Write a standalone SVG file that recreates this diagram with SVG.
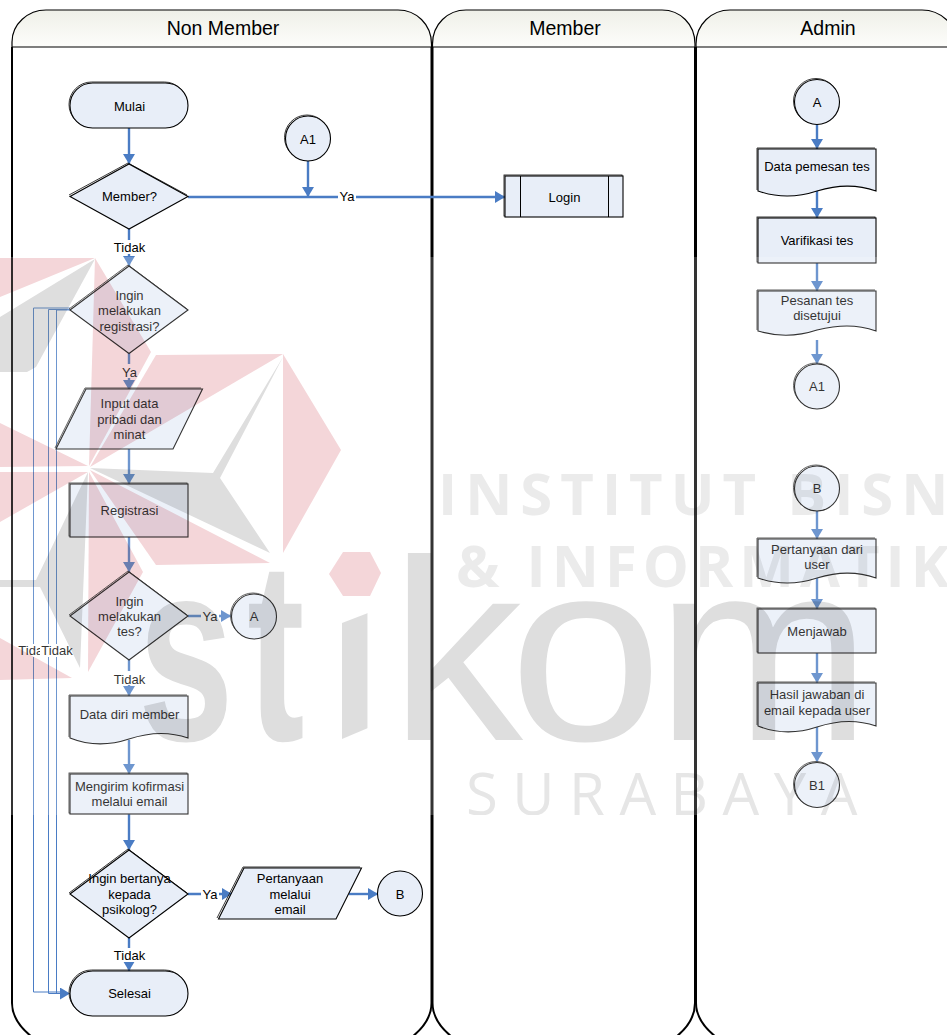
<svg xmlns="http://www.w3.org/2000/svg" width="947" height="1035" viewBox="0 0 947 1035">
<style>
text{font-family:"Liberation Sans",Arial,sans-serif;fill:#000;text-anchor:middle}
.t{font-size:13px}
.h{font-size:19.5px}
.n{fill:#e8eef8;stroke:#000;stroke-width:1.1}
.b{fill:none;stroke:#222;stroke-width:.9}
.in{fill:none;stroke:#000;stroke-width:1}
.lane{fill:none;stroke:#000;stroke-width:2}
.head{fill:url(#hg);stroke:#000;stroke-width:1.2}
.c{fill:none;stroke:#4a7cc4;stroke-width:2.4}
.a{marker-end:url(#ah)}
.th{fill:none;stroke:#4a7cc4;stroke-width:1}
.lb{fill:#fff}
.g{fill:#dedede}
.r{fill:#f4d6d9}
.wm{font-family:"Open Sans","Liberation Sans",sans-serif;font-weight:700;font-size:58px;fill:#ebebeb;text-anchor:start}
.wr{font-family:"Open Sans","Liberation Sans",sans-serif;font-weight:400;font-size:58px;fill:#e6e6e6;text-anchor:start}
.big{font-family:"Liberation Sans",sans-serif;font-weight:700;font-size:258px;fill:#dedede;text-anchor:start}
.big2{font-family:"Liberation Sans",sans-serif;font-weight:400;font-size:258px;fill:#dedede;text-anchor:start}
</style>
<defs>
<linearGradient id="hg" x1="0" y1="0" x2="0" y2="1"><stop offset="0" stop-color="#eff0e8"/><stop offset="1" stop-color="#fdfdfb"/></linearGradient>
<marker id="ah" markerUnits="userSpaceOnUse" markerWidth="10" markerHeight="12" refX="10" refY="6" orient="auto"><path d="M0,0 L10,6 L0,12 Z" fill="#4a7cc4"/></marker>
<clipPath id="ci"><polygon points="342,623 368,613 368,728 342,739"/></clipPath>
<clipPath id="band"><rect x="0" y="257" width="947" height="558"/></clipPath>
</defs>
<rect width="947" height="1035" fill="#fff"/>

<g id="lane-non-member">
<path class="head" d="M12,47 V42 C12,24 28,10 46,10 H398 C416,10 431.5,24 431.5,44 V47 Z"/>
<path class="lane" d="M12,47 V1003 C12,1018 22,1030 36,1040 H408 C422,1030 431.5,1018 431.5,1003 V47"/>
<text class="h" x="223" y="35">Non Member</text>
</g>
<g id="lane-member">
<path class="head" d="M432.5,47 V44 C432.5,24 448,10 466,10 H662 C680,10 695,24 695,44 V47 Z"/>
<path class="lane" d="M432.5,47 V1003 C432.5,1018 442,1030 456,1040 H672 C686,1030 695,1018 695,1003 V47"/>
<text class="h" x="565" y="35">Member</text>
</g>
<g id="lane-admin">
<path class="head" d="M696,47 V44 C696,24 712,10 730,10 H922 C940,10 957,24 957,44 V47 Z"/>
<path class="lane" d="M696,47 V1003 C696,1018 706,1030 720,1040 H940"/>
<text class="h" x="828" y="35">Admin</text>
</g>

<g id="connectors">
<path class="th" d="M70,308 H33.5 V992 H60"/>
<path class="th" d="M70,309.5 H48.5 V993.5 H60"/>
<path class="th" d="M70,310 H56.5 V993.5 H70" marker-end="url(#ah)"/>
<rect class="lb" x="17" y="644" width="24" height="13"/>
<text class="t" x="34" y="655">Tidak</text>
<rect class="lb" x="40" y="644" width="33" height="13"/>
<text class="t" x="57" y="655">Tidak</text>

<path class="c a" d="M129,128 V164"/>
<path class="c a" d="M308,161 V197"/>
<path class="c a" d="M188,197 H505"/>
<rect class="lb" x="338" y="190" width="18" height="14"/>
<text class="t" x="347" y="201">Ya</text>
<path class="c a" d="M129,229 V266"/>
<rect class="lb" x="113" y="240" width="33" height="14"/>
<text class="t" x="129.500" y="251.500">Tidak</text>
<path class="c a" d="M129,353 V390"/>
<rect class="lb" x="120" y="364" width="19" height="14"/>
<text class="t" x="129.500" y="376.500">Ya</text>
<path class="c a" d="M129,449 V484"/>
<path class="c a" d="M129,537 V572"/>
<path class="c a" d="M188,616 H231"/>
<rect class="lb" x="201" y="609" width="18" height="14"/>
<text class="t" x="210" y="621">Ya</text>
<path class="c a" d="M129,660 V696"/>
<rect class="lb" x="113" y="671" width="33" height="14"/>
<text class="t" x="129.500" y="683.500">Tidak</text>
<path class="c a" d="M129,740 V774"/>
<path class="c a" d="M129,814 V850"/>
<path class="c a" d="M188,894 H232"/>
<rect class="lb" x="201" y="887" width="18" height="14"/>
<text class="t" x="210" y="899">Ya</text>
<path class="c a" d="M349,894 H378"/>
<path class="c a" d="M129,938 V971"/>
<rect class="lb" x="113" y="948" width="33" height="14"/>
<text class="t" x="129.500" y="959.500">Tidak</text>

<path class="c a" d="M817,124 V149"/>
<path class="c a" d="M817,191 V218"/>
<path class="c a" d="M817,263 V291"/>
<path class="c a" d="M817,340 V364"/>
<path class="c a" d="M817,511 V539"/>
<path class="c a" d="M817,578 V609"/>
<path class="c a" d="M817,653 V683"/>
<path class="c a" d="M817,727 V762"/>
</g>

<g id="node-mulai">
<rect class="b" x="69" y="82" width="118" height="45" rx="22.500"/><rect class="n" x="70" y="83" width="118" height="45" rx="22.500"/>
<text class="t" x="129.500" y="110.500">Mulai</text>
</g>
<g id="node-member-q">
<path class="b" d="M69,195 L128,163 L187,195"/><path class="n" d="M70,196.500 L129,164 L188,196.500 L129,229 Z"/>
<text class="t" x="129.500" y="201">Member?</text>
</g>
<g id="node-a1-top">
<circle class="b" cx="307" cy="137.500" r="22.500"/><circle class="n" cx="308" cy="138.500" r="22.500"/>
<text class="t" x="308" y="143.500">A1</text>
</g>
<g id="node-login">
<rect class="b" x="504" y="175" width="118" height="41"/><rect class="n" x="505" y="176" width="118" height="41"/>
<path class="in" d="M520.500,176 V217 M608.500,176 V217"/>
<text class="t" x="564.500" y="201.500">Login</text>
</g>
<g id="node-registrasi-q">
<path class="b" d="M69,309 L128,265 L187,309"/><path class="n" d="M70,310 L129,266 L188,310 L129,353.500 Z"/>
<text class="t" x="129.500" y="299.500">Ingin</text><text class="t" x="129.500" y="314.500">melakukan</text><text class="t" x="129.500" y="330.500">registrasi?</text>
</g>
<g id="node-input">
<path class="b" d="M55,448 L85,388 H201"/><path class="n" d="M86,389 H202.500 L173,449 H56 Z"/>
<text class="t" x="129.500" y="408">Input data</text><text class="t" x="129.500" y="424">pribadi dan</text><text class="t" x="129.500" y="439">minat</text>
</g>
<g id="node-registrasi">
<rect class="b" x="69" y="483" width="118" height="53"/><rect class="n" x="70" y="484" width="118" height="53"/>
<text class="t" x="129.500" y="515">Registrasi</text>
</g>
<g id="node-tes-q">
<path class="b" d="M69,615 L128,571 L187,615"/><path class="n" d="M70,616 L129,572 L188,616 L129,660 Z"/>
<text class="t" x="129.500" y="605.500">Ingin</text><text class="t" x="129.500" y="621">melakukan</text><text class="t" x="129.500" y="636">tes?</text>
</g>
<g id="node-a-left">
<circle class="b" cx="253" cy="615.500" r="22.500"/><circle class="n" cx="254" cy="616.500" r="22.500"/>
<text class="t" x="254" y="621">A</text>
</g>
<g id="node-data-diri">
<path class="b" d="M69,737 V695 H187"/><path class="n" d="M70,696 H188 V738 C168,731 150,732 129,739 C108,746 90,746 70,738 Z"/>
<text class="t" x="129.500" y="719">Data diri member</text>
</g>
<g id="node-mengirim">
<rect class="b" x="69" y="773" width="118" height="40"/><rect class="n" x="70" y="774" width="118" height="40"/>
<text class="t" x="129.500" y="791">Mengirim kofirmasi</text><text class="t" x="129.500" y="806">melalui email</text>
</g>
<g id="node-bertanya-q">
<path class="b" d="M69,893 L128,849 L187,893"/><path class="n" d="M70,894 L129,850 L188,894 L129,938 Z"/>
<text class="t" x="129.500" y="883">Ingin bertanya</text><text class="t" x="129.500" y="898.500">kepada</text><text class="t" x="129.500" y="914">psikolog?</text>
</g>
<g id="node-pertanyaan">
<path class="b" d="M217,918 L243,867 H360"/><path class="n" d="M244,868 H361.500 L336,919 H218.500 Z"/>
<text class="t" x="290" y="883">Pertanyaan</text><text class="t" x="290" y="898.500">melalui</text><text class="t" x="290" y="914">email</text>
</g>
<g id="node-b-left">
<circle class="n" cx="400" cy="893.500" r="22.500"/>
<text class="t" x="400" y="898.500">B</text>
</g>
<g id="node-selesai">
<rect class="b" x="69" y="970" width="118" height="45" rx="22.500"/><rect class="n" x="70" y="971" width="118" height="45" rx="22.500"/>
<text class="t" x="129.500" y="997.500">Selesai</text>
</g>

<g id="node-a-right">
<circle class="b" cx="816" cy="101" r="22.500"/><circle class="n" cx="817" cy="102" r="22.500"/>
<text class="t" x="817" y="106.500">A</text>
</g>
<g id="node-data-pemesan">
<path class="b" d="M757,190 V148 H875"/><path class="n" d="M758,149 H876 V191 C856,184 838,185 817,191 C796,198 778,198 758,191 Z"/>
<text class="t" x="817" y="171">Data pemesan tes</text>
</g>
<g id="node-varifikasi">
<rect class="b" x="757" y="217" width="118" height="45"/><rect class="n" x="758" y="218" width="118" height="45"/>
<text class="t" x="817" y="245">Varifikasi tes</text>
</g>
<g id="node-pesanan">
<path class="b" d="M757,330 V290 H875"/><path class="n" d="M758,291 H876 V331 C856,324 838,325 817,330 C796,337 778,337 758,331 Z"/>
<text class="t" x="817" y="305">Pesanan tes</text><text class="t" x="817" y="320">disetujui</text>
</g>
<g id="node-a1-right">
<circle class="b" cx="816" cy="385.500" r="22.500"/><circle class="n" cx="817" cy="386.500" r="22.500"/>
<text class="t" x="817" y="391">A1</text>
</g>
<g id="node-b-right">
<circle class="b" cx="816" cy="487.500" r="22.500"/><circle class="n" cx="817" cy="488.500" r="22.500"/>
<text class="t" x="817" y="493">B</text>
</g>
<g id="node-pertanyaan-user">
<path class="b" d="M757,577 V538 H875"/><path class="n" d="M758,539 H876 V578 C856,571 838,572 817,578 C796,585 778,585 758,578 Z"/>
<text class="t" x="817" y="553.500">Pertanyaan dari</text><text class="t" x="817" y="568.500">user</text>
</g>
<g id="node-menjawab">
<rect class="b" x="757" y="608" width="118" height="44"/><rect class="n" x="758" y="609" width="118" height="44"/>
<text class="t" x="817" y="635.500">Menjawab</text>
</g>
<g id="node-hasil">
<path class="b" d="M757,725 V682 H875"/><path class="n" d="M758,683 H876 V726 C856,719 838,720 817,727 C796,734 778,734 758,726 Z"/>
<text class="t" x="817" y="698.500">Hasil jawaban di</text><text class="t" x="817" y="714.500">email kepada user</text>
</g>
<g id="node-b1">
<circle class="b" cx="816" cy="784" r="22.500"/><circle class="n" cx="817" cy="785" r="22.500"/>
<text class="t" x="817" y="789.500">B1</text>
</g>

<rect x="0" y="257" width="947" height="558" fill="#fff" opacity="0.2"/>
<g id="watermark" style="mix-blend-mode:multiply" clip-path="url(#band)">
<polygon class="g" points="0,317 95,259 36,367 27,372 0,372"/>
<polygon class="g" points="88,472 36,580 0,580 0,587 40,587 80,668"/>
<polygon class="g" points="90,468 213,473 283,357 220,478 270,553"/>
<polygon class="r" points="0,258 95,258 0,297"/>
<polygon class="r" points="95,258 151,352 89,466"/>
<polygon class="r" points="156,355 283,354 90,467"/>
<polygon class="r" points="283,354 341,450 283,553"/>
<polygon class="r" points="90,470 270,563 156,565"/>
<polygon class="r" points="89,472 143,572 88,672"/>
<polygon class="r" points="0,423 88,466 0,467"/>
<polygon class="r" points="0,472 88,472 0,522"/>
<polygon class="r" points="0,638 72,678 0,680"/>
<polygon class="r" points="343,552 370,552 381,573 370,596 343,596 329,574"/>
<text class="big" transform="translate(138,740) scale(.667,1)">s</text>
<text class="big" transform="translate(247,740) scale(.67,1)">t</text>
<g clip-path="url(#ci)"><text class="big" transform="translate(329,740) scale(.72,1)">i</text></g>
<text class="big2" transform="translate(390,740) scale(1.03,1)">k</text>
<text class="big2" transform="translate(509,740) scale(1.07,1)">o</text>
<text class="big2" transform="translate(656,740)">m</text>
<text class="wm" x="438" y="515" letter-spacing="8">INSTITUT BISNIS</text>
<text class="wm" x="456" y="587" letter-spacing="6">&amp; INFORMATIKA</text>
<text class="wr" x="466" y="815" letter-spacing="14.500">SURABAYA</text>
</g>
</svg>
